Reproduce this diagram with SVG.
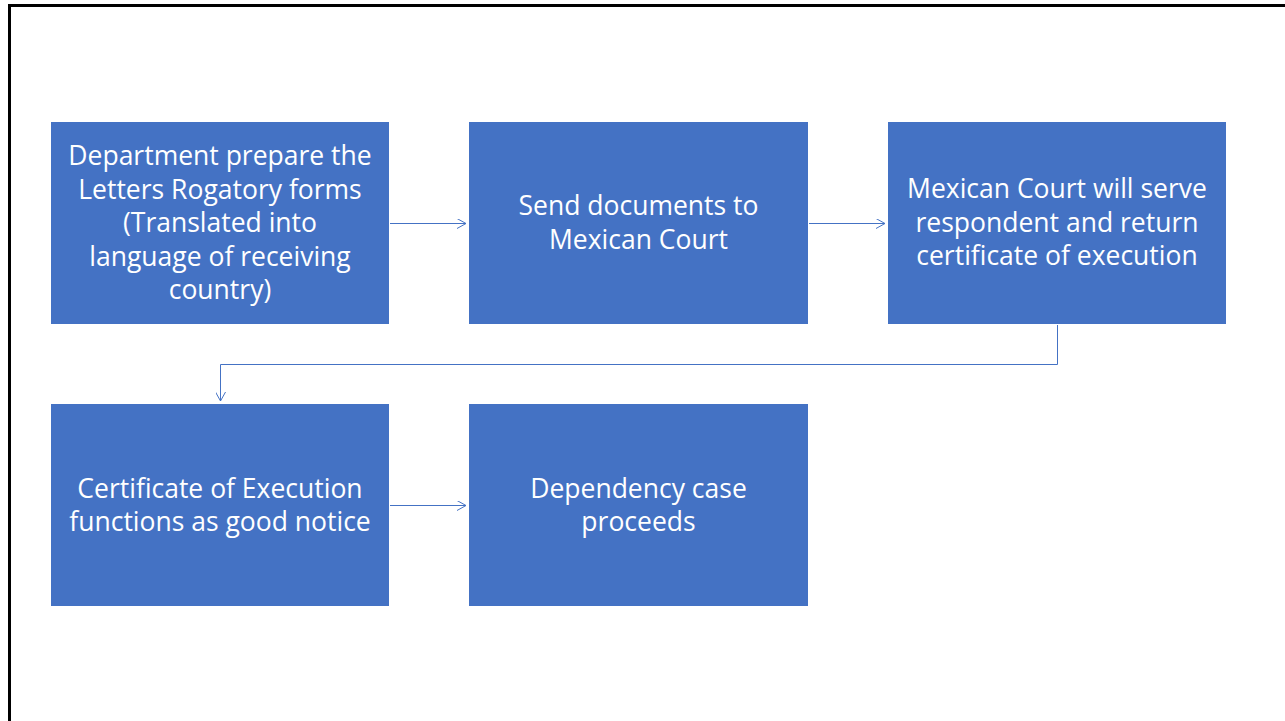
<svg xmlns="http://www.w3.org/2000/svg" width="1285" height="721" viewBox="0 0 1285 721">
<style>
.box{fill:#4472C4;}
.t{fill:#FFFFFF;font-family:"Open Sans","Liberation Sans",sans-serif;font-size:26.5px;text-anchor:middle;}
.c{fill:none;stroke:#4472C4;stroke-width:1;}
</style>
<defs>
<marker id="arr" viewBox="0 0 10 10" refX="9" refY="5" markerWidth="10" markerHeight="10" markerUnits="userSpaceOnUse" orient="auto">
<path d="M0,0 L9,5 L0,10" fill="none" stroke="#4472C4" stroke-width="1"/>
</marker>
</defs>
<rect width="1285" height="721" fill="#FFFFFF"/>
<rect x="9.5" y="5.5" width="1290" height="730" fill="none" stroke="#000000" stroke-width="3"/>
<g id="connectors">
<path class="c" d="M390,223.5 H466" marker-end="url(#arr)"/>
<path class="c" d="M809,223.5 H885" marker-end="url(#arr)"/>
<path class="c" d="M1057.5,325 V364.5 H220.5 V401" marker-end="url(#arr)"/>
<path class="c" d="M390,505.5 H466" marker-end="url(#arr)"/>
</g>
<g id="n1">
<rect class="box" x="51" y="122" width="338" height="202"/>
<text class="t" x="220" y="165">Department prepare the</text>
<text class="t" x="220" y="198.5">Letters Rogatory forms</text>
<text class="t" x="220" y="232">(Translated into</text>
<text class="t" x="220" y="265.5">language of receiving</text>
<text class="t" x="220" y="299">country)</text>
</g>
<g id="n2">
<rect class="box" x="469" y="122" width="339" height="202"/>
<text class="t" x="638.5" y="215">Send documents to</text>
<text class="t" x="638.5" y="248.5">Mexican Court</text>
</g>
<g id="n3">
<rect class="box" x="888" y="122" width="338" height="202"/>
<text class="t" x="1057" y="198">Mexican Court will serve</text>
<text class="t" x="1057" y="231.5">respondent and return</text>
<text class="t" x="1057" y="265">certificate of execution</text>
</g>
<g id="n4">
<rect class="box" x="51" y="404" width="338" height="202"/>
<text class="t" x="220" y="497.5">Certificate of Execution</text>
<text class="t" x="220" y="531">functions as good notice</text>
</g>
<g id="n5">
<rect class="box" x="469" y="404" width="339" height="202"/>
<text class="t" x="638.5" y="497.5">Dependency case</text>
<text class="t" x="638.5" y="531">proceeds</text>
</g>
</svg>
